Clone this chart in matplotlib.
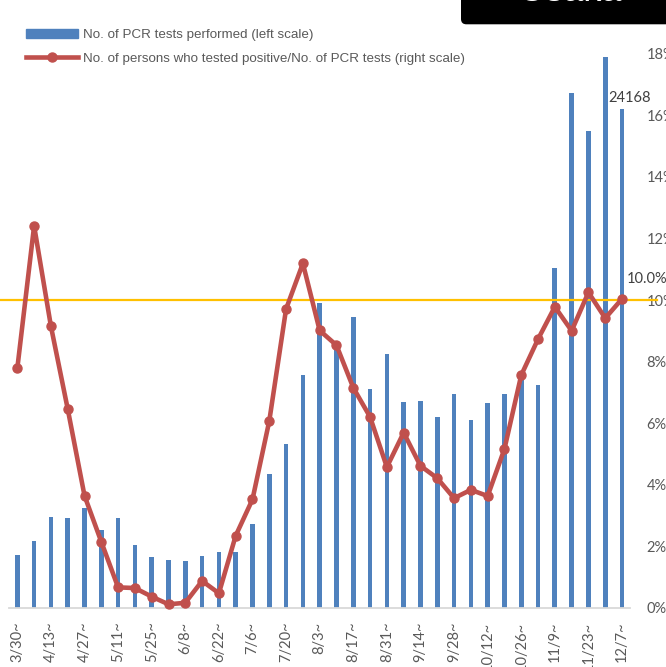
import numpy as np
import matplotlib
matplotlib.use("Agg")
from matplotlib import pyplot as plt
from matplotlib.patches import Patch, FancyBboxPatch
from matplotlib.lines import Line2D

## data (weekly)
weeks = ["3/30~", "4/6~", "4/13~", "4/20~", "4/27~", "5/4~", "5/11~", "5/18~",
         "5/25~", "6/1~", "6/8~", "6/15~", "6/22~", "6/29~", "7/6~", "7/13~",
         "7/20~", "7/27~", "8/3~", "8/10~", "8/17~", "8/24~", "8/31~", "9/7~",
         "9/14~", "9/21~", "9/28~", "10/5~", "10/12~", "10/19~", "10/26~",
         "11/2~", "11/9~", "11/16~", "11/23~", "11/30~", "12/7~"]
pcr_tests = [2555, 3234, 4383, 4350, 4820, 3782, 4350, 3055, 2473, 2328, 2264,
             2507, 2686, 2686, 4044, 6483, 7938, 11269, 14775, 12650, 14082,
             10605, 12287, 9960, 10038, 9262, 10348, 9102, 9941, 10348, 11120,
             10799, 16458, 24944, 23100, 26718, 24168]
pos_rate = [7.78, 12.41, 9.15, 6.46, 3.64, 2.14, 0.66, 0.64, 0.36, 0.11, 0.16,
            0.87, 0.47, 2.34, 3.52, 6.07, 9.71, 11.19, 9.01, 8.53, 7.15, 6.20,
            4.57, 5.69, 4.61, 4.21, 3.56, 3.83, 3.63, 5.16, 7.56, 8.73, 9.78,
            9.00, 10.25, 9.41, 10.04]
rate_ticks = [0, 2, 4, 6, 8, 10, 12, 14, 16, 18]
ref_level = 10

c_bar = '#4f81bd'
c_line = '#c0504d'
c_ref = '#ffc000'
c_txt = '#595959'

fig = plt.figure(figsize=(6.66, 6.67), dpi=100)
ax1 = fig.add_axes([0.0134, 0.0889, 0.9332, 0.8303])
x = np.arange(len(weeks))

ax1.bar(x, pcr_tests, width=0.28, color=c_bar, zorder=1)
ax1.set_xlim(-0.5, len(weeks) - 0.5)
ax1.set_ylim(0, 26855)
ax1.set_yticks([])
for s in ['top', 'left', 'right']:
    ax1.spines[s].set_visible(False)
ax1.spines['bottom'].set_color('#d9d9d9')
ax1.spines['bottom'].set_linewidth(1.3)
ax1.set_xticks(x[::2])
ax1.set_xticklabels(weeks[::2], rotation=90, fontsize=10.5, family='Lato', color=c_txt)
ax1.tick_params(axis='x', length=0, pad=10)

ax1.annotate(str(pcr_tests[-1]), (x[-1], pcr_tests[-1]), xytext=(8, 7),
             textcoords='offset pixels', ha='center', va='baseline',
             fontsize=10.5, family='Lato', color='#404040', annotation_clip=False)

ax2 = ax1.twinx()
for s in ['top', 'left', 'right', 'bottom']:
    ax2.spines[s].set_visible(False)
ax2.axhline(ref_level, xmin=-0.0143, xmax=1.043, color=c_ref, lw=1.6,
            clip_on=False, zorder=2)
ax2.plot(x, pos_rate, color=c_line, lw=3.3, marker='o', ms=6.5, zorder=3,
         clip_on=False)
ax2.set_ylim(0, 18)
ax2.set_yticks(rate_ticks)
ax2.set_yticklabels([f"{v}%" for v in rate_ticks], fontsize=10.5, family='Lato', color=c_txt)
ax2.tick_params(axis='y', length=0, pad=11.5)

ax2.annotate(f"{pos_rate[-1]:.1f}%", (x[-1], pos_rate[-1]), xytext=(25, 20),
             textcoords='offset pixels', ha='center', va='center',
             fontsize=10.5, family='Lato', color='#404040', annotation_clip=False)

# legend
handles = [Patch(color=c_bar),
           Line2D([], [], color=c_line, lw=3.3, marker='o', ms=6.5)]
labels = ["No. of PCR tests performed (left scale)",
          "No. of persons who tested positive/No. of PCR tests (right scale)"]
fig.legend(handles, labels, loc='upper left', bbox_to_anchor=(26 / 666, 1 - 29 / 667),
           frameon=False, borderpad=0, borderaxespad=0, handlelength=3.9,
           handletextpad=0.38, labelspacing=0.83,
           prop={'family': 'Liberation Sans', 'size': 9.6}, labelcolor=c_txt)

# black name box cut off at the top
box = FancyBboxPatch((461 / 666, 1 - 24.3 / 667), 0.5, 0.2,
                     boxstyle="round,pad=0,rounding_size=0.008",
                     transform=fig.transFigure, facecolor='black',
                     edgecolor='none', zorder=5)
fig.patches.append(box)
fig.text(569.5 / 666, 1 - 1 / 667, "Osaka", color='white', fontsize=26,
         family='Liberation Sans', ha='center', va='baseline', zorder=6)

fig.savefig("out.png", dpi=100)
